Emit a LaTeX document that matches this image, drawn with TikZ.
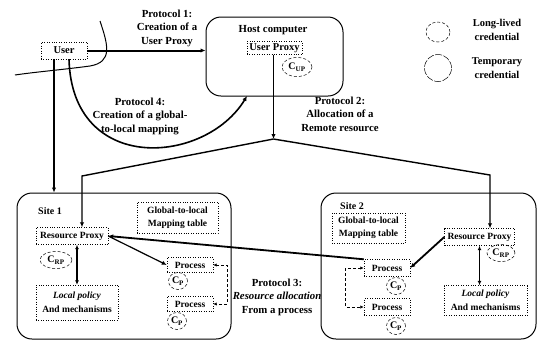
\documentclass[tikz,border=0pt]{standalone}
\usepackage{fontspec}
\setmainfont{Liberation Serif}
\usetikzlibrary{shapes.geometric,arrows.meta,calc}
\begin{document}
\begin{tikzpicture}[x=1pt,y=-1pt,
  txt/.style={font=\bfseries\fontsize{10.8}{13.5}\selectfont, align=center, inner sep=0pt},
  dbox/.style={draw, dotted, line width=0.45pt, inner sep=1pt, font=\bfseries\fontsize{9.5}{13}\selectfont, align=center},
  region/.style={draw, line width=1pt, rounded corners=15pt, inner sep=0pt},
  conn/.style={line width=1.6pt, -{Latex[length=5pt,width=4.5pt]}},
  dconn/.style={line width=1.4pt, {Latex[length=4.5pt,width=4pt]}-{Latex[length=4.5pt,width=4pt]}},
  dbr/.style={densely dashed, line width=0.9pt, {Latex[length=3.5pt,width=3.5pt]}-{Latex[length=3.5pt,width=3.5pt]}},
  cred/.style={ellipse, draw, densely dashed, line width=0.5pt, inner sep=0.5pt, font=\bfseries\fontsize{10}{11}\selectfont},
]
\useasboundingbox (0,0) rectangle (538,341);

% boundary of user domain
\draw[line width=1pt] (100,21) .. controls (108,45) and (113,62) .. (90,66)
  .. controls (60,70) and (35,72) .. (15,75);

% host
\node[region, minimum width=137, minimum height=79] (host) at (274.5,56.5) {};
\node[txt, font=\bfseries\fontsize{10.8}{13}\selectfont] (hostlbl) at (273,30) {Host computer};
\node[dbox, minimum width=55, minimum height=13, font=\bfseries\fontsize{10.5}{13}\selectfont] (up) at (274.5,48) {User Proxy};
\node[cred, minimum width=30, minimum height=19] (cup) at (297,67) {C\textsubscript{UP}};

% user
\node[dbox, minimum width=46, minimum height=17, font=\bfseries\fontsize{10.5}{13}\selectfont] (user) at (64,50.5) {User};

% legend
\node[draw, ellipse, densely dashed, line width=0.5pt, minimum width=24, minimum height=20] (ll) at (438,32) {};
\node[txt, font=\bfseries\fontsize{10.5}{14}\selectfont] (lltxt) at (497,30) {Long-lived\\credential};
\node[draw, circle, dash pattern=on 7pt off 1.5pt, line width=0.5pt, minimum size=27] (tc) at (438,68) {};
\node[txt, font=\bfseries\fontsize{10.5}{14}\selectfont] (tctxt) at (497,68) {Temporary\\credential};

% sites
\node[region, minimum width=214, minimum height=146] (site1) at (124,266) {};
\node[region, minimum width=215, minimum height=146] (site2) at (428.5,266) {};
\node[txt, font=\bfseries\fontsize{10}{13}\selectfont] (s1lbl) at (50,211) {Site 1};
\node[txt, font=\bfseries\fontsize{10}{13}\selectfont] (s2lbl) at (352,206) {Site 2};

% site 1 content
\node[dbox, minimum width=81, minimum height=31] (map1) at (177.5,217.5) {Global-to-local\\Mapping table};
\node[dbox, minimum width=72, minimum height=17] (rp1) at (72,236) {Resource Proxy};
\node[cred, minimum width=32, minimum height=17] (crp1) at (56,260) {C\textsubscript{RP}};
\node[dbox, minimum width=82, minimum height=35, font=\bfseries\itshape\fontsize{9.5}{14}\selectfont] (lp1) at (77,302.5) {Local policy\\\normalfont\bfseries And mechanisms};
\node[dbox, minimum width=46, minimum height=15] (pr11) at (190,265) {Process};
\node[cred, minimum width=19, minimum height=17] (cp11) at (178,281) {C\textsubscript{P}};
\node[dbox, minimum width=46, minimum height=15] (pr12) at (190,304) {Process};
\node[cred, minimum width=19, minimum height=17] (cp12) at (177,321) {C\textsubscript{P}};

% site 2 content
\node[dbox, minimum width=73, minimum height=30] (map2) at (368.5,228) {Global-to-local\\Mapping table};
\node[dbox, minimum width=70, minimum height=17] (rp2) at (479.5,237) {Resource Proxy};
\node[cred, minimum width=28, minimum height=17] (crp2) at (501,253) {C\textsubscript{RP}};
\node[dbox, minimum width=83, minimum height=30, font=\bfseries\itshape\fontsize{9.5}{14}\selectfont] (lp2) at (485.5,300.5) {Local policy\\\normalfont\bfseries And mechanisms};
\node[dbox, minimum width=46, minimum height=17] (pr21) at (387,268) {Process};
\node[cred, minimum width=19, minimum height=17] (cp21) at (396,286) {C\textsubscript{P}};
\node[dbox, minimum width=46, minimum height=17] (pr22) at (387,307) {Process};
\node[cred, minimum width=19, minimum height=17] (cp22) at (396,326) {C\textsubscript{P}};

% protocol labels
\node[txt] (p1) at (167,28) {Protocol 1:\\Creation of a\\User Proxy};
\node[txt] (p4) at (140,116) {Protocol 4:\\Creation of a global-\\to-local mapping};
\node[txt] (p2) at (340,114) {Protocol 2:\\Allocation of a\\Remote resource};
\node[txt, font=\bfseries\fontsize{10.8}{13.5}\selectfont] (p3) at (277,297) {Protocol 3:\\\itshape Resource allocation\\From a process};

% connectors
\draw[conn, line width=2pt] (user.east) -- (user.east -| host.west);
\draw[conn, line width=2pt] ([xshift=-10pt]user.south) -- ([xshift=-10pt]user.south |- site1.north);
\coordinate (p4end) at (247,96);
\draw[conn] ([xshift=5pt]user.south) .. controls (72,175) and (205,165) .. (p4end);

\coordinate (junc) at (273.5,139);
\coordinate (bend1) at (82,176);
\coordinate (bend2) at (490,175);
\draw[conn, line width=1.4pt] ([xshift=-1pt]up.south) -- (junc);
\draw[conn, line width=1.4pt] (junc) -- (bend1) -- (bend1 |- rp1.north);
\draw[conn, line width=1.4pt] (junc) -- (bend2) -- (bend2 |- rp2.north);

\draw[dconn] (lp1.north |- rp1.south) -- (lp1.north);
\draw[dconn] (rp2.south) -- (rp2.south |- lp2.north);

\draw[conn, line width=1.2pt] (rp1.east) -- (pr11.west);
\draw[conn, line width=1.8pt] (pr21.north west) -- (rp1.east);
\draw[conn, line width=1.8pt] (rp2.west) -- (pr21.east);

\draw[dbr] (pr11.east) -- ([xshift=14pt]pr11.east) |- (pr12.east);
\draw[dbr] (pr21.west) -- ([xshift=-18pt]pr21.west) |- (pr22.west);
\end{tikzpicture}
\end{document}
